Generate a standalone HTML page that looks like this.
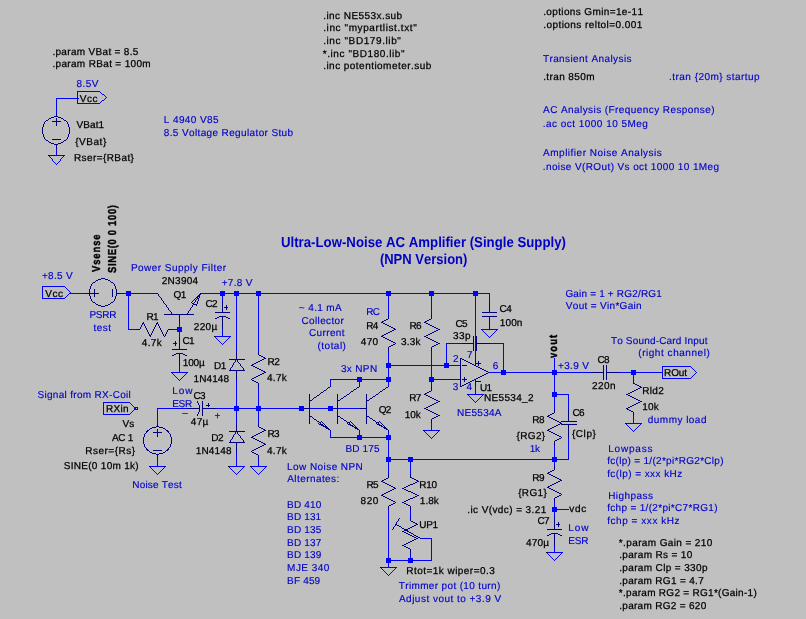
<!DOCTYPE html>
<html lang="en"><head><meta charset="utf-8"><title>Ultra-Low-Noise AC Amplifier (Single Supply) - NPN Version</title>
<style>html,body{margin:0;padding:0;background:#c0c0c0;overflow:hidden}svg{display:block;will-change:transform;opacity:0.999}text{font-family:"Liberation Sans",Arial,Helvetica,sans-serif;white-space:pre;font-kerning:none;font-variant-ligatures:none}</style></head><body>
<svg width="806" height="619" viewBox="0 0 806 619" shape-rendering="crispEdges" text-rendering="geometricPrecision">
<rect width="806" height="619" fill="#c0c0c0"/>
<path fill="#0000ff" d="M77 91h23v1h-23zM102 94h2v1h-2zM56 98h23v1h-23zM102 100h2v1h-2zM77 103h23v1h-23zM48 155h17v1h-17zM42 286h23v1h-23zM69 293h17v1h-17zM121 293h37v1h-37zM200 293h290v1h-290zM42 298h23v1h-23zM128 329h9v1h-9zM172 329h8v1h-8zM481 329h17v1h-17zM214 336h17v1h-17zM446 343h16v1h-16zM490 343h14v1h-14zM388 365h73v1h-73zM662 366h29v1h-29zM171 372h17v1h-17zM489 372h102v1h-102zM619 372h44v1h-44zM662 378h29v1h-29zM330 379h59v1h-59zM431 379h30v1h-30zM467 394h17v1h-17zM554 394h15v1h-15zM103 402h27v1h-27zM134 407h4v1h-4zM134 408h2v1h-2zM157 408h30v1h-30zM216 408h144v1h-144zM134 409h4v1h-4zM103 414h27v1h-27zM625 423h17v1h-17zM423 430h17v1h-17zM330 437h59v1h-59zM388 459h181v1h-181zM149 466h17v1h-17zM228 466h17v1h-17zM250 466h17v1h-17zM554 509h15v1h-15zM421 538h11v1h-11zM546 552h17v1h-17zM388 560h44v1h-44zM380 567h17v1h-17zM42 287h1v11h-1zM49 156h1v1h-1zM50 157h1v1h-1zM51 158h1v1h-1zM52 159h1v2h-1zM53 161h1v1h-1zM54 162h1v1h-1zM55 163h1v1h-1zM56 99h1v15h-1zM56 148h1v7h-1zM56 164h1v1h-1zM57 163h1v1h-1zM58 162h1v1h-1zM59 161h1v1h-1zM60 159h1v2h-1zM61 158h1v1h-1zM62 157h1v1h-1zM63 156h1v1h-1zM65 287h1v1h-1zM65 297h1v1h-1zM66 288h1v1h-1zM66 296h1v1h-1zM67 289h1v1h-1zM67 295h1v1h-1zM68 290h1v1h-1zM68 294h1v1h-1zM69 291h1v1h-1zM70 292h1v1h-1zM77 92h1v6h-1zM77 99h1v4h-1zM100 92h1v1h-1zM100 102h1v1h-1zM101 93h1v1h-1zM101 101h1v1h-1zM103 403h1v11h-1zM104 95h1v1h-1zM104 99h1v1h-1zM105 96h1v1h-1zM105 98h1v1h-1zM106 97h1v1h-1zM128 294h1v35h-1zM130 403h1v1h-1zM130 413h1v1h-1zM131 404h1v1h-1zM131 412h1v1h-1zM132 405h1v1h-1zM132 411h1v1h-1zM133 406h1v1h-1zM133 410h1v1h-1zM137 408h1v1h-1zM150 467h1v1h-1zM151 468h1v1h-1zM152 469h1v1h-1zM153 470h1v1h-1zM154 471h1v1h-1zM155 472h1v1h-1zM156 473h1v1h-1zM157 409h1v14h-1zM157 459h1v7h-1zM157 474h1v1h-1zM158 473h1v1h-1zM159 472h1v1h-1zM160 471h1v1h-1zM161 470h1v1h-1zM162 469h1v1h-1zM163 468h1v1h-1zM164 467h1v1h-1zM172 373h1v1h-1zM173 374h1v1h-1zM174 375h1v1h-1zM175 376h1v1h-1zM176 377h1v1h-1zM177 378h1v1h-1zM178 379h1v1h-1zM179 323h1v6h-1zM179 330h1v7h-1zM179 366h1v6h-1zM179 380h1v1h-1zM180 379h1v1h-1zM181 378h1v1h-1zM182 377h1v1h-1zM183 376h1v1h-1zM184 375h1v1h-1zM185 374h1v1h-1zM186 373h1v1h-1zM215 337h1v1h-1zM216 338h1v1h-1zM217 339h1v1h-1zM218 340h1v1h-1zM219 341h1v1h-1zM220 342h1v1h-1zM221 343h1v1h-1zM222 294h1v7h-1zM222 329h1v7h-1zM222 344h1v1h-1zM223 343h1v1h-1zM224 342h1v1h-1zM225 341h1v1h-1zM226 340h1v1h-1zM227 339h1v1h-1zM228 338h1v1h-1zM229 337h1v1h-1zM229 467h1v1h-1zM230 468h1v1h-1zM231 469h1v1h-1zM232 470h1v1h-1zM233 471h1v1h-1zM234 472h1v1h-1zM235 473h1v1h-1zM236 294h1v57h-1zM236 380h1v28h-1zM236 409h1v14h-1zM236 452h1v14h-1zM236 474h1v1h-1zM237 473h1v1h-1zM238 472h1v1h-1zM239 471h1v1h-1zM240 470h1v1h-1zM241 469h1v1h-1zM242 468h1v1h-1zM243 467h1v1h-1zM251 467h1v1h-1zM252 468h1v1h-1zM253 469h1v1h-1zM254 470h1v1h-1zM255 471h1v1h-1zM256 472h1v1h-1zM257 473h1v1h-1zM258 294h1v57h-1zM258 387h1v21h-1zM258 409h1v14h-1zM258 459h1v7h-1zM258 474h1v1h-1zM259 473h1v1h-1zM260 472h1v1h-1zM261 471h1v1h-1zM262 470h1v1h-1zM263 469h1v1h-1zM264 468h1v1h-1zM265 467h1v1h-1zM330 380h1v6h-1zM330 431h1v6h-1zM359 380h1v6h-1zM359 431h1v6h-1zM381 568h1v1h-1zM382 569h1v1h-1zM383 570h1v1h-1zM384 571h1v1h-1zM385 572h1v1h-1zM386 573h1v1h-1zM387 574h1v1h-1zM388 294h1v21h-1zM388 351h1v14h-1zM388 366h1v13h-1zM388 380h1v6h-1zM388 431h1v6h-1zM388 438h1v21h-1zM388 460h1v14h-1zM388 510h1v50h-1zM388 561h1v6h-1zM388 575h1v1h-1zM389 574h1v1h-1zM390 573h1v1h-1zM391 572h1v1h-1zM392 571h1v1h-1zM393 570h1v1h-1zM394 569h1v1h-1zM395 568h1v1h-1zM410 460h1v14h-1zM410 510h1v7h-1zM410 553h1v7h-1zM424 431h1v1h-1zM425 432h1v1h-1zM426 433h1v1h-1zM427 434h1v1h-1zM428 435h1v1h-1zM429 436h1v1h-1zM430 437h1v1h-1zM431 294h1v21h-1zM431 351h1v14h-1zM431 366h1v13h-1zM431 380h1v7h-1zM431 423h1v7h-1zM431 438h1v1h-1zM431 539h1v21h-1zM432 437h1v1h-1zM433 436h1v1h-1zM434 435h1v1h-1zM435 434h1v1h-1zM436 433h1v1h-1zM437 432h1v1h-1zM438 431h1v1h-1zM446 344h1v21h-1zM468 395h1v1h-1zM469 396h1v1h-1zM470 397h1v1h-1zM471 398h1v1h-1zM472 399h1v1h-1zM473 400h1v1h-1zM474 401h1v1h-1zM475 294h1v65h-1zM475 386h1v8h-1zM475 402h1v1h-1zM476 401h1v1h-1zM477 400h1v1h-1zM478 399h1v1h-1zM479 398h1v1h-1zM480 397h1v1h-1zM481 396h1v1h-1zM482 330h1v1h-1zM482 395h1v1h-1zM483 331h1v1h-1zM484 332h1v1h-1zM485 333h1v1h-1zM486 334h1v1h-1zM487 335h1v1h-1zM488 336h1v1h-1zM489 294h1v7h-1zM489 337h1v1h-1zM490 336h1v1h-1zM491 335h1v1h-1zM492 334h1v1h-1zM493 333h1v1h-1zM494 332h1v1h-1zM495 331h1v1h-1zM496 330h1v1h-1zM503 344h1v28h-1zM547 553h1v1h-1zM548 554h1v1h-1zM549 555h1v1h-1zM550 556h1v1h-1zM551 557h1v1h-1zM552 558h1v1h-1zM553 559h1v1h-1zM554 358h1v14h-1zM554 373h1v21h-1zM554 395h1v14h-1zM554 445h1v14h-1zM554 460h1v6h-1zM554 502h1v7h-1zM554 510h1v7h-1zM554 546h1v6h-1zM554 560h1v1h-1zM555 559h1v1h-1zM556 558h1v1h-1zM557 557h1v1h-1zM558 556h1v1h-1zM559 555h1v1h-1zM560 554h1v1h-1zM561 553h1v1h-1zM568 395h1v14h-1zM568 438h1v21h-1zM626 424h1v1h-1zM627 425h1v1h-1zM628 426h1v1h-1zM629 427h1v1h-1zM630 428h1v1h-1zM631 429h1v1h-1zM632 430h1v1h-1zM633 373h1v7h-1zM633 416h1v7h-1zM633 431h1v1h-1zM634 430h1v1h-1zM635 429h1v1h-1zM636 428h1v1h-1zM637 427h1v1h-1zM638 426h1v1h-1zM639 425h1v1h-1zM640 424h1v1h-1zM662 367h1v5h-1zM662 373h1v5h-1zM691 367h1v1h-1zM691 377h1v1h-1zM692 368h1v1h-1zM692 376h1v1h-1zM693 369h1v1h-1zM693 375h1v1h-1zM694 370h1v1h-1zM694 374h1v1h-1zM695 371h1v1h-1zM695 373h1v1h-1zM696 372h1v1h-1z"/>
<path fill="#000080" d="M54 116h4v1h-4zM51 117h3v1h-3zM58 117h3v1h-3zM49 118h2v1h-2zM61 118h2v1h-2zM46 120h2v1h-2zM64 120h2v1h-2zM52 121h9v1h-9zM52 139h9v1h-9zM46 140h2v1h-2zM64 140h2v1h-2zM49 142h2v1h-2zM61 142h2v1h-2zM51 143h3v1h-3zM58 143h3v1h-3zM54 144h4v1h-4zM101 278h4v1h-4zM98 279h3v1h-3zM105 279h3v1h-3zM96 280h2v1h-2zM108 280h2v1h-2zM93 282h2v1h-2zM111 282h2v1h-2zM86 293h13v1h-13zM116 293h5v1h-5zM199 294h2v1h-2zM198 295h2v1h-2zM197 296h3v1h-3zM196 297h2v1h-2zM197 298h2v1h-2zM93 302h2v1h-2zM111 302h2v1h-2zM192 303h2v1h-2zM96 304h2v1h-2zM108 304h2v1h-2zM193 304h4v1h-4zM98 305h3v1h-3zM105 305h3v1h-3zM101 306h4v1h-4zM224 307h4v1h-4zM215 312h15v1h-15zM482 312h15v1h-15zM164 314h30v1h-30zM219 316h7v1h-7zM482 316h15v1h-15zM217 317h2v1h-2zM226 317h2v1h-2zM215 318h2v1h-2zM228 318h2v1h-2zM386 319h2v1h-2zM429 319h2v1h-2zM384 320h2v1h-2zM427 320h2v1h-2zM382 321h2v1h-2zM425 321h2v1h-2zM381 322h2v1h-2zM424 322h2v1h-2zM142 323h2v1h-2zM156 323h2v1h-2zM383 323h2v1h-2zM426 323h2v1h-2zM385 324h2v1h-2zM428 324h2v1h-2zM387 325h2v1h-2zM430 325h2v1h-2zM389 326h2v1h-2zM432 326h2v1h-2zM391 327h2v1h-2zM434 327h2v1h-2zM393 328h2v1h-2zM436 328h2v1h-2zM136 329h4v1h-4zM168 329h4v1h-4zM394 329h2v1h-2zM438 329h2v1h-2zM392 330h2v1h-2zM436 330h2v1h-2zM390 331h2v1h-2zM434 331h2v1h-2zM388 332h2v1h-2zM432 332h2v1h-2zM386 333h2v1h-2zM430 333h2v1h-2zM384 334h2v1h-2zM428 334h2v1h-2zM149 335h2v1h-2zM382 335h2v1h-2zM426 335h2v1h-2zM381 336h2v1h-2zM424 336h2v1h-2zM383 337h2v1h-2zM426 337h2v1h-2zM385 338h2v1h-2zM428 338h2v1h-2zM387 339h2v1h-2zM430 339h2v1h-2zM389 340h2v1h-2zM432 340h2v1h-2zM391 341h2v1h-2zM434 341h2v1h-2zM393 342h2v1h-2zM436 342h2v1h-2zM173 343h4v1h-4zM438 343h2v1h-2zM462 343h12v1h-12zM476 343h14v1h-14zM393 344h2v1h-2zM436 344h2v1h-2zM391 345h2v1h-2zM434 345h2v1h-2zM389 346h2v1h-2zM432 346h2v1h-2zM172 349h15v1h-15zM176 353h7v1h-7zM174 354h2v1h-2zM183 354h2v1h-2zM172 355h2v1h-2zM185 355h2v1h-2zM259 355h2v1h-2zM261 356h2v1h-2zM263 357h2v1h-2zM264 358h2v1h-2zM460 358h2v1h-2zM229 359h16v1h-16zM262 359h2v1h-2zM462 359h2v1h-2zM260 360h2v1h-2zM464 360h2v1h-2zM258 361h2v1h-2zM466 361h2v1h-2zM256 362h2v1h-2zM468 362h2v1h-2zM254 363h2v1h-2zM470 363h2v1h-2zM475 363h6v1h-6zM252 364h2v1h-2zM472 364h2v1h-2zM251 365h2v1h-2zM462 365h5v1h-5zM474 365h2v1h-2zM253 366h2v1h-2zM476 366h2v1h-2zM255 367h2v1h-2zM478 367h2v1h-2zM257 368h2v1h-2zM480 368h2v1h-2zM259 369h2v1h-2zM482 369h2v1h-2zM229 370h16v1h-16zM261 370h2v1h-2zM484 370h2v1h-2zM263 371h2v1h-2zM486 371h2v1h-2zM264 372h2v1h-2zM591 372h13v1h-13zM606 372h13v1h-13zM262 373h2v1h-2zM486 373h2v1h-2zM260 374h2v1h-2zM484 374h2v1h-2zM258 375h2v1h-2zM482 375h2v1h-2zM256 376h2v1h-2zM480 376h2v1h-2zM254 377h2v1h-2zM478 377h2v1h-2zM252 378h2v1h-2zM476 378h2v1h-2zM462 379h5v1h-5zM474 379h2v1h-2zM252 380h2v1h-2zM472 380h2v1h-2zM254 381h2v1h-2zM470 381h2v1h-2zM475 381h6v1h-6zM256 382h2v1h-2zM468 382h2v1h-2zM466 383h2v1h-2zM633 383h2v1h-2zM464 384h2v1h-2zM635 384h2v1h-2zM462 385h2v1h-2zM637 385h2v1h-2zM460 386h2v1h-2zM639 386h2v1h-2zM328 387h2v1h-2zM357 387h2v1h-2zM386 387h2v1h-2zM640 387h2v1h-2zM638 388h2v1h-2zM354 389h2v1h-2zM383 389h2v1h-2zM636 389h2v1h-2zM324 390h2v1h-2zM634 390h2v1h-2zM351 391h2v1h-2zM380 391h2v1h-2zM429 391h2v1h-2zM632 391h2v1h-2zM321 392h2v1h-2zM427 392h2v1h-2zM630 392h2v1h-2zM425 393h2v1h-2zM628 393h2v1h-2zM347 394h2v1h-2zM376 394h2v1h-2zM424 394h2v1h-2zM626 394h2v1h-2zM317 395h2v1h-2zM426 395h2v1h-2zM628 395h2v1h-2zM344 396h2v1h-2zM373 396h2v1h-2zM428 396h2v1h-2zM630 396h2v1h-2zM314 397h2v1h-2zM430 397h2v1h-2zM632 397h2v1h-2zM341 398h2v1h-2zM370 398h2v1h-2zM432 398h2v1h-2zM634 398h2v1h-2zM434 399h2v1h-2zM636 399h2v1h-2zM309 400h3v1h-3zM337 400h3v1h-3zM366 400h3v1h-3zM436 400h2v1h-2zM638 400h2v1h-2zM438 401h2v1h-2zM640 401h2v1h-2zM436 402h2v1h-2zM638 402h2v1h-2zM434 403h2v1h-2zM636 403h2v1h-2zM432 404h2v1h-2zM634 404h2v1h-2zM206 405h4v1h-4zM430 405h2v1h-2zM632 405h2v1h-2zM428 406h2v1h-2zM630 406h2v1h-2zM426 407h2v1h-2zM628 407h2v1h-2zM187 408h13v1h-13zM202 408h14v1h-14zM302 408h8v1h-8zM331 408h7v1h-7zM360 408h7v1h-7zM424 408h2v1h-2zM626 408h2v1h-2zM426 409h2v1h-2zM627 409h2v1h-2zM428 410h2v1h-2zM629 410h2v1h-2zM430 411h2v1h-2zM631 411h2v1h-2zM432 412h2v1h-2zM434 413h2v1h-2zM552 413h2v1h-2zM436 414h2v1h-2zM550 414h2v1h-2zM438 415h2v1h-2zM548 415h2v1h-2zM309 416h3v1h-3zM337 416h3v1h-3zM366 416h3v1h-3zM436 416h2v1h-2zM547 416h2v1h-2zM434 417h2v1h-2zM549 417h2v1h-2zM341 418h2v1h-2zM370 418h2v1h-2zM432 418h2v1h-2zM551 418h2v1h-2zM314 419h2v1h-2zM553 419h2v1h-2zM344 420h2v1h-2zM373 420h2v1h-2zM555 420h2v1h-2zM317 421h2v1h-2zM557 421h2v1h-2zM561 421h16v1h-16zM319 422h2v1h-2zM347 422h3v1h-3zM376 422h3v1h-3zM559 422h2v1h-2zM560 423h2v1h-2zM319 424h4v1h-4zM348 424h3v1h-3zM377 424h3v1h-3zM558 424h2v1h-2zM561 424h16v1h-16zM321 425h3v1h-3zM350 425h3v1h-3zM379 425h3v1h-3zM556 425h2v1h-2zM156 426h3v1h-3zM323 426h4v1h-4zM352 426h2v1h-2zM381 426h2v1h-2zM554 426h2v1h-2zM152 427h4v1h-4zM159 427h4v1h-4zM259 427h2v1h-2zM325 427h3v1h-3zM354 427h3v1h-3zM383 427h3v1h-3zM552 427h2v1h-2zM150 428h2v1h-2zM163 428h2v1h-2zM261 428h2v1h-2zM326 428h3v1h-3zM355 428h3v1h-3zM384 428h3v1h-3zM550 428h2v1h-2zM263 429h2v1h-2zM328 429h2v1h-2zM357 429h2v1h-2zM386 429h2v1h-2zM548 429h2v1h-2zM147 430h2v1h-2zM166 430h2v1h-2zM264 430h2v1h-2zM547 430h2v1h-2zM146 431h2v1h-2zM167 431h2v1h-2zM229 431h16v1h-16zM262 431h2v1h-2zM549 431h2v1h-2zM153 432h9v1h-9zM260 432h2v1h-2zM551 432h2v1h-2zM258 433h2v1h-2zM553 433h2v1h-2zM256 434h2v1h-2zM555 434h2v1h-2zM254 435h2v1h-2zM557 435h2v1h-2zM252 436h2v1h-2zM559 436h2v1h-2zM251 437h2v1h-2zM253 438h2v1h-2zM559 438h2v1h-2zM255 439h2v1h-2zM557 439h2v1h-2zM257 440h2v1h-2zM555 440h2v1h-2zM259 441h2v1h-2zM229 442h16v1h-16zM261 442h2v1h-2zM263 443h2v1h-2zM264 444h2v1h-2zM262 445h2v1h-2zM260 446h2v1h-2zM258 447h2v1h-2zM256 448h2v1h-2zM146 449h2v1h-2zM167 449h2v1h-2zM254 449h2v1h-2zM147 450h2v1h-2zM153 450h9v1h-9zM166 450h2v1h-2zM252 450h2v1h-2zM150 452h2v1h-2zM163 452h2v1h-2zM252 452h2v1h-2zM152 453h4v1h-4zM159 453h4v1h-4zM254 453h2v1h-2zM156 454h3v1h-3zM256 454h2v1h-2zM552 470h2v1h-2zM550 471h2v1h-2zM548 472h2v1h-2zM547 473h2v1h-2zM549 474h2v1h-2zM551 475h2v1h-2zM553 476h2v1h-2zM410 477h2v1h-2zM555 477h2v1h-2zM386 478h2v1h-2zM412 478h2v1h-2zM557 478h2v1h-2zM384 479h2v1h-2zM414 479h2v1h-2zM559 479h2v1h-2zM382 480h2v1h-2zM416 480h2v1h-2zM560 480h2v1h-2zM381 481h2v1h-2zM417 481h2v1h-2zM558 481h2v1h-2zM383 482h2v1h-2zM415 482h2v1h-2zM556 482h2v1h-2zM385 483h2v1h-2zM413 483h2v1h-2zM554 483h2v1h-2zM387 484h2v1h-2zM410 484h3v1h-3zM552 484h2v1h-2zM389 485h2v1h-2zM408 485h2v1h-2zM550 485h2v1h-2zM391 486h2v1h-2zM406 486h2v1h-2zM548 486h2v1h-2zM393 487h2v1h-2zM404 487h2v1h-2zM547 487h2v1h-2zM394 488h2v1h-2zM402 488h2v1h-2zM549 488h2v1h-2zM392 489h2v1h-2zM404 489h2v1h-2zM551 489h2v1h-2zM390 490h2v1h-2zM406 490h2v1h-2zM553 490h2v1h-2zM388 491h2v1h-2zM408 491h3v1h-3zM555 491h2v1h-2zM386 492h2v1h-2zM411 492h2v1h-2zM557 492h2v1h-2zM384 493h2v1h-2zM413 493h2v1h-2zM559 493h2v1h-2zM382 494h2v1h-2zM415 494h2v1h-2zM381 495h2v1h-2zM417 495h2v1h-2zM559 495h2v1h-2zM383 496h2v1h-2zM415 496h2v1h-2zM557 496h2v1h-2zM385 497h2v1h-2zM413 497h2v1h-2zM555 497h2v1h-2zM387 498h2v1h-2zM410 498h3v1h-3zM389 499h2v1h-2zM408 499h2v1h-2zM391 500h2v1h-2zM406 500h2v1h-2zM393 501h2v1h-2zM404 501h2v1h-2zM402 502h2v1h-2zM393 503h2v1h-2zM404 503h2v1h-2zM391 504h2v1h-2zM406 504h2v1h-2zM389 505h2v1h-2zM408 505h2v1h-2zM411 521h2v1h-2zM413 522h2v1h-2zM415 523h2v1h-2zM395 524h2v1h-2zM416 524h2v1h-2zM556 524h4v1h-4zM397 525h2v1h-2zM414 525h2v1h-2zM399 526h2v1h-2zM412 526h2v1h-2zM410 527h2v1h-2zM402 528h2v1h-2zM408 528h2v1h-2zM404 529h4v1h-4zM547 529h15v1h-15zM404 530h4v1h-4zM402 531h2v1h-2zM407 531h2v1h-2zM404 532h2v1h-2zM409 532h2v1h-2zM406 533h2v1h-2zM411 533h2v1h-2zM551 533h7v1h-7zM408 534h2v1h-2zM549 534h2v1h-2zM558 534h2v1h-2zM410 535h2v1h-2zM414 535h2v1h-2zM547 535h2v1h-2zM560 535h2v1h-2zM412 536h2v1h-2zM416 536h2v1h-2zM414 537h2v1h-2zM418 537h2v1h-2zM416 538h2v1h-2zM414 539h2v1h-2zM412 540h2v1h-2zM410 541h2v1h-2zM408 542h2v1h-2zM406 543h2v1h-2zM404 544h2v1h-2zM402 545h2v1h-2zM404 546h2v1h-2zM406 547h2v1h-2zM408 548h2v1h-2zM42 127h1v7h-1zM43 124h1v3h-1zM43 134h1v3h-1zM44 122h1v2h-1zM44 137h1v2h-1zM45 121h1v1h-1zM45 139h1v1h-1zM48 119h1v1h-1zM48 141h1v1h-1zM56 113h1v3h-1zM56 118h1v3h-1zM56 122h1v4h-1zM56 145h1v4h-1zM63 119h1v1h-1zM63 141h1v1h-1zM66 121h1v1h-1zM66 139h1v1h-1zM67 122h1v2h-1zM67 137h1v2h-1zM68 124h1v3h-1zM68 134h1v3h-1zM69 127h1v7h-1zM89 289h1v4h-1zM89 294h1v2h-1zM90 286h1v3h-1zM90 296h1v3h-1zM91 284h1v2h-1zM91 299h1v2h-1zM92 283h1v1h-1zM92 301h1v1h-1zM94 289h1v4h-1zM94 294h1v3h-1zM95 281h1v1h-1zM95 303h1v1h-1zM110 281h1v1h-1zM110 303h1v1h-1zM112 289h1v8h-1zM113 283h1v1h-1zM113 301h1v1h-1zM114 284h1v2h-1zM114 299h1v2h-1zM115 286h1v3h-1zM115 296h1v3h-1zM116 289h1v4h-1zM116 294h1v2h-1zM140 327h1v2h-1zM141 325h1v2h-1zM142 324h1v1h-1zM143 322h1v1h-1zM143 437h1v7h-1zM144 324h1v2h-1zM144 434h1v3h-1zM144 444h1v3h-1zM145 326h1v2h-1zM145 433h1v1h-1zM145 447h1v1h-1zM146 328h1v2h-1zM146 432h1v1h-1zM146 448h1v1h-1zM147 330h1v2h-1zM148 332h1v2h-1zM149 334h1v1h-1zM149 429h1v1h-1zM149 451h1v1h-1zM150 336h1v1h-1zM151 333h1v2h-1zM152 331h1v2h-1zM153 329h1v2h-1zM154 327h1v2h-1zM155 325h1v2h-1zM156 324h1v1h-1zM157 293h1v1h-1zM157 322h1v1h-1zM157 423h1v3h-1zM157 429h1v3h-1zM157 433h1v4h-1zM157 455h1v4h-1zM158 294h1v2h-1zM158 324h1v2h-1zM159 296h1v1h-1zM159 326h1v2h-1zM160 297h1v1h-1zM160 328h1v2h-1zM161 298h1v2h-1zM161 330h1v2h-1zM162 300h1v1h-1zM162 332h1v2h-1zM163 301h1v2h-1zM163 334h1v2h-1zM164 303h1v1h-1zM164 336h1v1h-1zM165 304h1v1h-1zM165 334h1v2h-1zM165 429h1v1h-1zM165 451h1v1h-1zM166 305h1v2h-1zM166 332h1v2h-1zM167 307h1v1h-1zM167 330h1v2h-1zM168 308h1v2h-1zM168 432h1v1h-1zM168 448h1v1h-1zM169 310h1v1h-1zM169 433h1v1h-1zM169 447h1v1h-1zM170 311h1v1h-1zM170 434h1v3h-1zM170 444h1v3h-1zM171 312h1v2h-1zM171 437h1v7h-1zM175 341h1v2h-1zM175 344h1v2h-1zM179 315h1v8h-1zM179 337h1v12h-1zM179 354h1v12h-1zM187 313h1v1h-1zM188 311h1v2h-1zM189 310h1v1h-1zM190 308h1v2h-1zM191 302h1v1h-1zM191 307h1v1h-1zM192 301h1v1h-1zM192 305h1v2h-1zM193 300h1v1h-1zM194 299h1v1h-1zM194 302h1v1h-1zM195 298h1v1h-1zM195 300h1v2h-1zM196 299h1v1h-1zM196 305h1v1h-1zM197 301h1v3h-1zM197 401h1v2h-1zM197 414h1v2h-1zM198 299h1v2h-1zM198 403h1v2h-1zM198 412h1v2h-1zM199 297h1v1h-1zM199 405h1v3h-1zM199 409h1v3h-1zM200 293h1v1h-1zM202 401h1v7h-1zM202 409h1v7h-1zM208 403h1v2h-1zM208 406h1v1h-1zM222 301h1v11h-1zM222 317h1v12h-1zM226 305h1v2h-1zM226 308h1v2h-1zM230 368h1v2h-1zM230 440h1v2h-1zM231 367h1v1h-1zM231 439h1v1h-1zM232 365h1v2h-1zM232 437h1v2h-1zM233 363h1v2h-1zM233 435h1v2h-1zM234 362h1v1h-1zM234 434h1v1h-1zM235 360h1v2h-1zM235 432h1v2h-1zM236 351h1v8h-1zM236 371h1v9h-1zM236 423h1v8h-1zM236 443h1v9h-1zM237 360h1v2h-1zM237 432h1v2h-1zM238 362h1v1h-1zM238 434h1v1h-1zM239 363h1v1h-1zM239 435h1v1h-1zM240 364h1v2h-1zM240 436h1v2h-1zM241 366h1v1h-1zM241 438h1v1h-1zM242 367h1v1h-1zM242 439h1v1h-1zM243 368h1v2h-1zM243 440h1v2h-1zM251 379h1v1h-1zM251 451h1v1h-1zM258 351h1v4h-1zM258 383h1v4h-1zM258 423h1v4h-1zM258 455h1v4h-1zM309 394h1v6h-1zM309 401h1v7h-1zM309 409h1v7h-1zM309 417h1v7h-1zM312 399h1v1h-1zM312 417h1v1h-1zM313 398h1v1h-1zM313 418h1v1h-1zM316 396h1v1h-1zM316 420h1v1h-1zM318 423h1v1h-1zM319 394h1v1h-1zM320 393h1v1h-1zM320 423h1v1h-1zM321 421h1v1h-1zM322 422h1v1h-1zM323 391h1v1h-1zM323 423h1v1h-1zM324 424h1v1h-1zM325 425h1v1h-1zM326 389h1v1h-1zM327 388h1v1h-1zM330 386h1v1h-1zM330 430h1v1h-1zM337 394h1v6h-1zM337 401h1v7h-1zM337 409h1v7h-1zM337 417h1v7h-1zM340 399h1v1h-1zM340 417h1v1h-1zM343 397h1v1h-1zM343 419h1v1h-1zM346 395h1v1h-1zM346 421h1v1h-1zM347 423h1v1h-1zM349 393h1v1h-1zM349 423h1v1h-1zM350 392h1v1h-1zM350 421h1v1h-1zM351 422h1v1h-1zM352 423h1v1h-1zM353 390h1v1h-1zM353 424h1v1h-1zM354 425h1v1h-1zM355 426h1v1h-1zM356 388h1v1h-1zM359 386h1v1h-1zM359 430h1v1h-1zM366 394h1v6h-1zM366 401h1v7h-1zM366 409h1v7h-1zM366 417h1v7h-1zM369 399h1v1h-1zM369 417h1v1h-1zM372 397h1v1h-1zM372 419h1v1h-1zM375 395h1v1h-1zM375 421h1v1h-1zM376 423h1v1h-1zM378 393h1v1h-1zM378 423h1v1h-1zM379 392h1v1h-1zM379 421h1v1h-1zM380 422h1v1h-1zM381 423h1v1h-1zM382 390h1v1h-1zM382 424h1v1h-1zM383 425h1v1h-1zM384 426h1v1h-1zM385 388h1v1h-1zM388 315h1v4h-1zM388 347h1v4h-1zM388 386h1v1h-1zM388 430h1v1h-1zM388 474h1v4h-1zM388 506h1v4h-1zM392 529h1v1h-1zM393 527h1v2h-1zM394 526h1v1h-1zM395 343h1v1h-1zM395 502h1v1h-1zM395 525h1v1h-1zM396 522h1v2h-1zM397 521h1v1h-1zM398 519h1v2h-1zM399 518h1v1h-1zM401 527h1v1h-1zM410 474h1v3h-1zM410 506h1v4h-1zM410 517h1v4h-1zM410 549h1v4h-1zM413 534h1v1h-1zM420 538h1v1h-1zM431 315h1v4h-1zM431 347h1v4h-1zM431 387h1v4h-1zM431 419h1v4h-1zM460 359h1v27h-1zM464 377h1v2h-1zM464 380h1v2h-1zM473 336h1v7h-1zM473 344h1v7h-1zM475 359h1v4h-1zM475 364h1v1h-1zM475 380h1v1h-1zM475 382h1v4h-1zM476 336h1v7h-1zM476 344h1v7h-1zM478 361h1v2h-1zM478 364h1v2h-1zM488 372h1v1h-1zM489 301h1v11h-1zM489 317h1v12h-1zM554 409h1v4h-1zM554 441h1v4h-1zM554 466h1v4h-1zM554 498h1v4h-1zM554 517h1v12h-1zM554 534h1v12h-1zM558 522h1v2h-1zM558 525h1v2h-1zM561 437h1v1h-1zM561 494h1v1h-1zM568 409h1v12h-1zM568 425h1v13h-1zM603 365h1v7h-1zM603 373h1v7h-1zM606 365h1v7h-1zM606 373h1v7h-1zM633 380h1v3h-1zM633 412h1v4h-1z"/>
<path fill="#0000ff" d="M126 291h5v5h-5zM177 327h5v5h-5zM220 291h5v5h-5zM234 291h5v5h-5zM256 291h5v5h-5zM386 291h5v5h-5zM429 291h5v5h-5zM473 291h5v5h-5zM234 406h5v5h-5zM256 406h5v5h-5zM299 406h5v5h-5zM328 406h5v5h-5zM357 377h5v5h-5zM386 377h5v5h-5zM357 435h5v5h-5zM386 435h5v5h-5zM386 363h5v5h-5zM386 457h5v5h-5zM429 377h5v5h-5zM444 363h5v5h-5zM501 370h5v5h-5zM552 370h5v5h-5zM631 370h5v5h-5zM552 392h5v5h-5zM552 457h5v5h-5zM552 507h5v5h-5zM408 457h5v5h-5zM386 558h5v5h-5zM408 558h5v5h-5z"/>
<path fill="#000000" d="M48 155h1v1h-1zM171 372h1v1h-1zM214 336h1v1h-1zM228 466h1v1h-1zM250 466h1v1h-1zM149 466h1v1h-1zM423 430h1v1h-1zM467 394h1v1h-1zM481 329h1v1h-1zM625 423h1v1h-1zM546 552h1v1h-1zM380 567h1v1h-1z"/>
<g shape-rendering="auto" font-size="10" stroke-linejoin="round">
<g fill="#000000" stroke="#000000" stroke-width="0.25">
<text x="52.39" y="55" letter-spacing="0.32">.param VBat = 8.5</text>
<text x="52.39" y="67" letter-spacing="0.34">.param RBat = 100m</text>
<text x="79.76" y="102" letter-spacing="0.52">Vcc</text>
<text x="76.46" y="128" letter-spacing="0.1">VBat1</text>
<text x="75.13" y="145" letter-spacing="0.56">{VBat}</text>
<text x="73.98" y="161" letter-spacing="0.41">Rser={RBat}</text>
<text x="323.19" y="19" letter-spacing="0.44">.inc NE553x.sub</text>
<text x="323.19" y="31" letter-spacing="0.6">.inc &quot;mypartlist.txt&quot;</text>
<text x="323.19" y="44" letter-spacing="0.59">.inc &quot;BD179.lib&quot;</text>
<text x="322.74" y="57" letter-spacing="0.57">*.inc &quot;BD180.lib&quot;</text>
<text x="323.19" y="69" letter-spacing="0.46">.inc potentiometer.sub</text>
<text x="543.19" y="15" letter-spacing="0.37">.options Gmin=1e-11</text>
<text x="543.19" y="28" letter-spacing="0.44">.options reltol=0.001</text>
<text x="543.19" y="80" letter-spacing="0.39">.tran 850m</text>
<text x="45.36" y="297" letter-spacing="0.52">Vcc</text>
<text x="161.8" y="284" letter-spacing="0.25">2N3904</text>
<text x="173.53" y="298" letter-spacing="-0.6">Q1</text>
<text x="146.38" y="320" letter-spacing="-0.6">R1</text>
<text x="141.87" y="346" letter-spacing="0.3">4.7k</text>
<text x="182.39" y="344" letter-spacing="-0.6">C1</text>
<text x="182.74" y="366" letter-spacing="-0.12">100µ</text>
<text x="205.39" y="307" letter-spacing="-0.57">C2</text>
<text x="193.7" y="330" letter-spacing="0.4">220µ</text>
<text x="214.08" y="369" letter-spacing="-0.6">D1</text>
<text x="193.54" y="382" letter-spacing="0.09">1N4148</text>
<text x="267.48" y="365" letter-spacing="-0.56">R2</text>
<text x="267.07" y="381" letter-spacing="0.24">4.7k</text>
<text x="105.88" y="412" letter-spacing="0.33">RXin</text>
<text x="122.56" y="427" letter-spacing="-0.06">Vs</text>
<text x="111.98" y="441" letter-spacing="-0.27">AC 1</text>
<text x="85.18" y="454" letter-spacing="0.52">Rser={Rs}</text>
<text x="63.75" y="469" letter-spacing="0.29">SINE(0 10m 1k)</text>
<text x="193.49" y="399" letter-spacing="-0.6">C3</text>
<text x="190.87" y="425" letter-spacing="0.29">47µ</text>
<text x="211.28" y="441" letter-spacing="-0.46">D2</text>
<text x="195.74" y="454" letter-spacing="0.15">1N4148</text>
<text x="267.48" y="437" letter-spacing="-0.6">R3</text>
<text x="267.07" y="454" letter-spacing="0.24">4.7k</text>
<text x="366.18" y="329" letter-spacing="-0.6">R4</text>
<text x="360.87" y="345" letter-spacing="0.32">470</text>
<text x="409.38" y="329" letter-spacing="-0.6">R6</text>
<text x="401.02" y="345" letter-spacing="0.19">3.3k</text>
<text x="455.39" y="327" letter-spacing="-0.6">C5</text>
<text x="453.02" y="339" letter-spacing="0.41">33p</text>
<text x="499.59" y="312" letter-spacing="-0.6">C4</text>
<text x="499.84" y="326" letter-spacing="0.12">100n</text>
<text x="479.93" y="391" letter-spacing="-0.6">U1</text>
<text x="484.08" y="401" letter-spacing="0.31">NE5534_2</text>
<text x="409.18" y="401" letter-spacing="-0.6">R7</text>
<text x="404.74" y="418" letter-spacing="-0.04">10k</text>
<text x="378.63" y="413" letter-spacing="-0.56">Q2</text>
<text x="366.38" y="488" letter-spacing="-0.6">R5</text>
<text x="360.57" y="504" letter-spacing="0.57">820</text>
<text x="419.28" y="488" letter-spacing="-0.27">R10</text>
<text x="419.84" y="504" letter-spacing="0.02">1.8k</text>
<text x="419.33" y="528" letter-spacing="-0.4">UP1</text>
<text x="406.28" y="574" letter-spacing="0.46">Rtot=1k wiper=0.3</text>
<text x="597.49" y="363" letter-spacing="-0.6">C8</text>
<text x="591.9" y="389" letter-spacing="0.44">220n</text>
<text x="664.08" y="376" letter-spacing="-0.12">ROut</text>
<text x="642.28" y="394" letter-spacing="0.29">Rld2</text>
<text x="642.34" y="410" letter-spacing="0.16">10k</text>
<text x="572.49" y="416" letter-spacing="-0.6">C6</text>
<text x="571.93" y="437" letter-spacing="0.57">{Clp}</text>
<text x="532.18" y="423" letter-spacing="-0.33">R8</text>
<text x="516.43" y="439" letter-spacing="0.38">{RG2}</text>
<text x="532.18" y="481" letter-spacing="-0.29">R9</text>
<text x="518.13" y="496" letter-spacing="0.38">{RG1}</text>
<text x="467.29" y="513" letter-spacing="0.4">.ic V(vdc) = 3.21</text>
<text x="569.37" y="512" letter-spacing="0.67">vdc</text>
<text x="537.49" y="524" letter-spacing="-0.6">C7</text>
<text x="526.07" y="546" letter-spacing="0.14">470µ</text>
<text x="618.84" y="546" letter-spacing="0.38">*.param Gain = 210</text>
<text x="619.19" y="558" letter-spacing="0.34">.param Rs = 10</text>
<text x="619.19" y="571" letter-spacing="0.36">.param Clp = 330p</text>
<text x="619.19" y="584" letter-spacing="0.32">.param RG1 = 4.7</text>
<text x="618.84" y="596" letter-spacing="0.28">*.param RG2 = RG1*(Gain-1)</text>
<text x="619.19" y="609" letter-spacing="0.3">.param RG2 = 620</text>
</g>
<g fill="#0000cc" stroke="#0000cc" stroke-width="0.15">
<text x="76.57" y="87" letter-spacing="0.47">8.5V</text>
<text x="163.78" y="123" letter-spacing="0.41">L 4940 V85</text>
<text x="163.77" y="136" letter-spacing="0.37">8.5 Voltage Regulator Stub</text>
<text x="542.88" y="62" letter-spacing="0.41">Transient Analysis</text>
<text x="669.09" y="80" letter-spacing="0.46">.tran {20m} startup</text>
<text x="543.08" y="113" letter-spacing="0.42">AC Analysis (Frequency Response)</text>
<text x="542.79" y="127" letter-spacing="0.47">.ac oct 1000 10 5Meg</text>
<text x="543.08" y="156" letter-spacing="0.5">Amplifier Noise Analysis</text>
<text x="542.79" y="170" letter-spacing="0.39">.noise V(ROut) Vs oct 1000 10 1Meg</text>
<text x="41.91" y="279" letter-spacing="0.29">+8.5 V</text>
<text x="130.88" y="271" letter-spacing="0.47">Power Supply Filter</text>
<text x="221.71" y="286" letter-spacing="0.29">+7.8 V</text>
<text x="89.38" y="318" letter-spacing="-0.2">PSRR</text>
<text x="93.45" y="331" letter-spacing="0.5">test</text>
<text x="37.45" y="398" letter-spacing="0.31">Signal from RX-Coil</text>
<text x="172.18" y="394" letter-spacing="0.98">Low</text>
<text x="172.18" y="407" letter-spacing="-0.29">ESR</text>
<text x="132.28" y="488" letter-spacing="0.18">Noise Test</text>
<text x="298.85" y="311" letter-spacing="0.37">~ 4.1 mA</text>
<text x="301.49" y="324" letter-spacing="0.36">Collector</text>
<text x="308.99" y="336" letter-spacing="0.37">Current</text>
<text x="317.58" y="349" letter-spacing="0.46">(total)</text>
<text x="366.18" y="315" letter-spacing="-0.6">RC</text>
<text x="340.92" y="372" letter-spacing="0.35">3x NPN</text>
<text x="345.38" y="452" letter-spacing="0.18">BD 175</text>
<text x="287.08" y="470" letter-spacing="0.43">Low Noise NPN</text>
<text x="287.28" y="482" letter-spacing="0.42">Alternates:</text>
<text x="287.08" y="508" letter-spacing="0.17">BD 410</text>
<text x="287.08" y="520" letter-spacing="0.15">BD 131</text>
<text x="287.08" y="533" letter-spacing="0.18">BD 135</text>
<text x="287.08" y="546" letter-spacing="0.19">BD 137</text>
<text x="287.08" y="558" letter-spacing="0.19">BD 139</text>
<text x="287.08" y="571" letter-spacing="0.47">MJE 340</text>
<text x="287.08" y="584" letter-spacing="0.17">BF 459</text>
<text x="398.78" y="589" letter-spacing="0.35">Trimmer pot (10 turn)</text>
<text x="398.98" y="602" letter-spacing="0.48">Adjust vout to +3.9 V</text>
<text x="565.4" y="297" letter-spacing="0.18">Gain = 1 + RG2/RG1</text>
<text x="565.86" y="309" letter-spacing="0.31">Vout = Vin*Gain</text>
<text x="610.88" y="344" letter-spacing="0.18">To Sound-Card Input</text>
<text x="638.28" y="356" letter-spacing="0.54">(right channel)</text>
<text x="558.01" y="369" letter-spacing="0.33">+3.9 V</text>
<text x="647.78" y="423" letter-spacing="0.47">dummy load</text>
<text x="457.08" y="416" letter-spacing="0.26">NE5534A</text>
<text x="529.74" y="452" letter-spacing="-0.31">1k</text>
<text x="608.18" y="452" letter-spacing="0.8">Lowpass</text>
<text x="607.16" y="464" letter-spacing="0.3">fc(lp) = 1/(2*pi*RG2*Clp)</text>
<text x="607.16" y="477" letter-spacing="0.43">fc(lp) = xxx kHz</text>
<text x="608.18" y="499" letter-spacing="0.46">Highpass</text>
<text x="607.16" y="511" letter-spacing="0.32">fchp = 1/(2*pi*C7*RG1)</text>
<text x="607.16" y="524" letter-spacing="0.55">fchp = xxx kHz</text>
<text x="568.28" y="531" letter-spacing="0.98">Low</text>
<text x="568.28" y="544" letter-spacing="-0.14">ESR</text>
<text x="452.92" y="362">2</text>
<text x="466.91" y="358">7</text>
<text x="492.64" y="369">6</text>
<text x="452.75" y="390">3</text>
<text x="466.6" y="390">4</text>
<text x="182.32" y="416">–</text>
<text x="214.58" y="419">+</text>
</g>
<text x="281" y="247" fill="#0000c4" stroke="none" font-size="14.5" font-weight="bold" textLength="284.9" lengthAdjust="spacingAndGlyphs">Ultra-Low-Noise AC Amplifier (Single Supply)</text>
<text x="379.9" y="264" fill="#0000c4" stroke="none" font-size="14.5" font-weight="bold" textLength="87.5" lengthAdjust="spacingAndGlyphs">(NPN Version)</text>
<text transform="translate(100 272) rotate(-90) scale(0.82 1)" fill="#000000" stroke="#000" stroke-width="0.4" font-size="11.5" font-weight="bold" textLength="45.85" lengthAdjust="spacing">Vsense</text>
<text transform="translate(115.7 273) rotate(-90) scale(0.82 1)" fill="#000000" stroke="#000" stroke-width="0.4" font-size="11.5" font-weight="bold" textLength="82.93" lengthAdjust="spacing">SINE(0 0 100)</text>
<text transform="translate(556.7 358) rotate(-90) scale(0.82 1)" fill="#000000" stroke="#000" stroke-width="0.4" font-size="11.5" font-weight="bold" textLength="28.29" lengthAdjust="spacing">vout</text>
</g>
</svg></body></html>
